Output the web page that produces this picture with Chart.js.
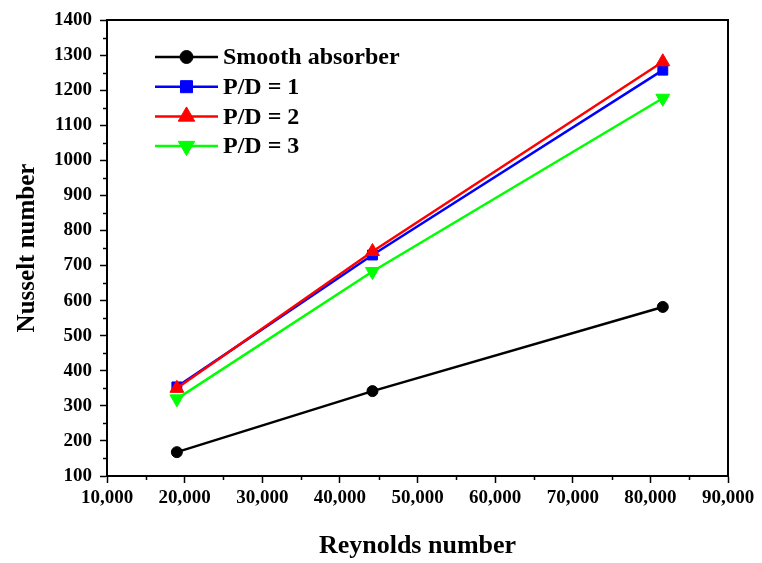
<!DOCTYPE html>
<html>
<head>
<meta charset="utf-8">
<title>Nusselt number vs Reynolds number</title>
<script src="https://cdn.jsdelivr.net/npm/chart.js@4.4.0/dist/chart.umd.min.js"></script>
<style>
  html, body { margin: 0; padding: 0; background: #fff; }
</style>
</head>
<body>
<canvas id="nuChart" width="762" height="563"></canvas>
<script>
// Reynolds numbers tested and the Nusselt number of each absorber
const reynolds = [19000, 44200, 81600];
const smoothAbsorber = [168, 342, 582];
const pd1 = [354, 730, 1257];
const pd2 = [350, 740, 1281];
const pd3 = [320, 683, 1177];
const seriesNames = ['Smooth absorber', 'P/D = 1', 'P/D = 2', 'P/D = 3'];

// axis ranges (major steps; minor ticks sit halfway between)
const xRange = [10000, 90000, 10000];
const yRange = [100, 1400, 100];

const serif = '"Liberation Serif", "Times New Roman", serif';

const toPoints = (ys) => ys.map((y, i) => ({ x: reynolds[i], y: y }));

// box around the plot plus the short minor ticks
const frameTicks = {
  id: 'frameTicks',
  afterDraw(chart) {
    const { ctx, chartArea: a, scales } = chart;
    ctx.save();
    ctx.strokeStyle = '#000';
    ctx.lineWidth = 2;
    ctx.strokeRect(a.left, a.top, a.right - a.left, a.bottom - a.top);

    ctx.lineWidth = 1.5;
    ctx.beginPath();
    const xs = scales.x;
    for (let v = xs.min + xRange[2] / 2; v < xs.max; v += xRange[2]) {
      const px = Math.round(xs.getPixelForValue(v)) + 0.5;
      ctx.moveTo(px, a.bottom);
      ctx.lineTo(px, a.bottom + 4);
    }
    const ys = scales.y;
    for (let v = ys.min + yRange[2] / 2; v < ys.max; v += yRange[2]) {
      const py = Math.round(ys.getPixelForValue(v)) + 0.5;
      ctx.moveTo(a.left, py);
      ctx.lineTo(a.left - 4, py);
    }
    ctx.stroke();
    ctx.restore();
  }
};

// legend: line with marker, then the series name
const lineLegend = {
  id: 'lineLegend',
  afterDraw(chart) {
    const { ctx } = chart;
    const x0 = 155, x1 = 218, top = 57, rowGap = 29.7;
    ctx.save();
    ctx.font = 'bold 24px ' + serif;
    ctx.textBaseline = 'middle';
    chart.data.datasets.forEach((ds, i) => {
      const y = top + i * rowGap;
      ctx.strokeStyle = ds.borderColor;
      ctx.fillStyle = ds.borderColor;
      ctx.lineWidth = 2.5;
      ctx.beginPath();
      ctx.moveTo(x0, y);
      ctx.lineTo(x1, y);
      ctx.stroke();
      ctx.lineWidth = 1;
      Chart.helpers.drawPoint(ctx, {
        pointStyle: ds.pointStyle,
        radius: ds.legendRadius,
        rotation: ds.pointRotation || 0,
        borderWidth: 1
      }, (x0 + x1) / 2, y);
      ctx.fillStyle = '#000';
      ctx.fillText(ds.label, 223, y + 1);
    });
    ctx.restore();
  }
};

const tickFont = { family: serif, size: 19, weight: 'bold' };

new Chart(document.getElementById('nuChart'), {
  type: 'line',
  data: {
    datasets: [
      {
        label: seriesNames[0], data: toPoints(smoothAbsorber),
        borderColor: '#000000', backgroundColor: '#000000',
        pointStyle: 'circle', pointRadius: 5.5, legendRadius: 6.5, order: 4
      },
      {
        label: seriesNames[1], data: toPoints(pd1),
        borderColor: '#0000ff', backgroundColor: '#0000ff',
        pointStyle: 'rect', pointRadius: 7, legendRadius: 8.5, order: 3
      },
      {
        label: seriesNames[2], data: toPoints(pd2),
        borderColor: '#ff0000', backgroundColor: '#ff0000',
        pointStyle: 'triangle', pointRadius: 8, legendRadius: 9.5, order: 2
      },
      {
        label: seriesNames[3], data: toPoints(pd3),
        borderColor: '#00ff00', backgroundColor: '#00ff00',
        pointStyle: 'triangle', pointRotation: 180, pointRadius: 8, legendRadius: 9.5, order: 1
      }
    ]
  },
  options: {
    responsive: false,
    animation: false,
    layout: { padding: { top: 20, right: 34, bottom: 0, left: 0 } },
    elements: {
      line: { borderWidth: 2.5, tension: 0 },
      point: { borderWidth: 1, hoverRadius: 7 }
    },
    plugins: {
      legend: { display: false },
      tooltip: { enabled: false }
    },
    scales: {
      x: {
        type: 'linear',
        position: 'bottom',
        min: xRange[0],
        max: xRange[1],
        afterFit: (s) => { s.height = 87; },
        ticks: {
          stepSize: xRange[2],
          autoSkip: false,
          maxRotation: 0,
          padding: 4,
          color: '#000',
          font: tickFont,
          callback: (v) => v.toLocaleString('en-US')
        },
        grid: { drawOnChartArea: false, drawTicks: true, tickLength: 7, tickColor: '#000', tickWidth: 1.5 },
        border: { color: '#000', width: 2 },
        title: {
          display: true, text: 'Reynolds number', color: '#000',
          font: { family: serif, size: 26, weight: 'bold' }, padding: { top: 0, bottom: 1 }
        }
      },
      y: {
        min: yRange[0],
        max: yRange[1],
        afterFit: (s) => { s.width = 107; },
        ticks: {
          stepSize: yRange[2],
          autoSkip: false,
          padding: 8,
          color: '#000',
          font: tickFont,
          callback: (v) => String(v)
        },
        grid: { drawOnChartArea: false, drawTicks: true, tickLength: 7, tickColor: '#000', tickWidth: 1.5 },
        border: { color: '#000', width: 2 },
        title: {
          display: true, text: 'Nusselt number', color: '#000',
          font: { family: serif, size: 25, weight: 'bold' }, padding: { top: 13, bottom: 0 }
        }
      }
    }
  },
  plugins: [frameTicks, lineLegend]
});
</script>
</body>
</html>
